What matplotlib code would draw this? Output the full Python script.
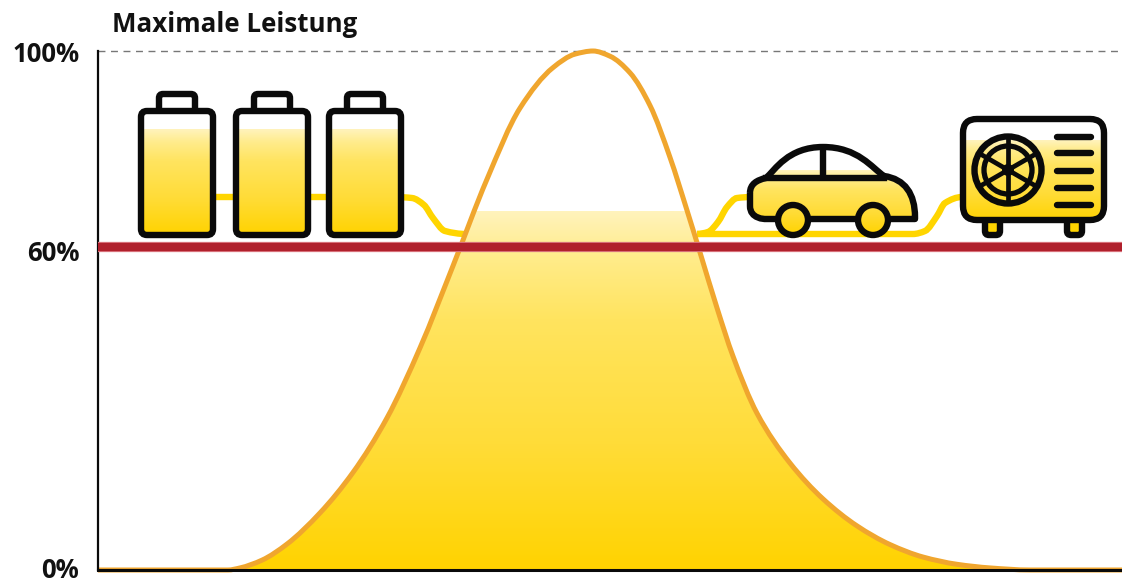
import numpy as np
import matplotlib
matplotlib.use("Agg")
import matplotlib.pyplot as plt
from matplotlib.path import Path
from matplotlib.patches import PathPatch, FancyBboxPatch, Circle
from matplotlib.colors import LinearSegmentedColormap
from matplotlib.transforms import ScaledTranslation

# --- data ---
TITLE = "Maximale Leistung"
TICK_POS = [0, 62.2, 100]
TICK_LABELS = ["0%", "60%", "100%"]
LIMIT_LEVEL = 62.2
FILL_TOP = 69
POWER_X = [98, 228, 240, 262, 287, 320, 353, 387, 420, 453, 487, 520, 553, 575, 593,
           610, 630, 650, 670, 687, 700, 717, 733, 757, 790, 823, 857, 890, 923, 957, 990, 1030, 1122]
POWER_Y = [0, 0, 0.4, 1.9, 5.0, 11, 18.8, 29.3, 42.8, 58.6, 75.3, 89, 96.8, 99.4, 100,
           99.0, 95.8, 89.5, 79.5, 69.3, 61.2, 50.5, 41.2, 30.2, 20.6, 13.7, 8.5, 4.9, 2.5, 1.1, 0.4, 0, 0]

W, H = 1122, 579
L, R, B, T = 98, 1122, 570, 51
BLACK = "#0a0a0a"
YEL = "#FFD400"
WIRE = "#FFD500"
LW = 4.6
cmap = LinearSegmentedColormap.from_list(
    "y", [(0, "#FFD300"), (0.35, "#FFDC38"), (0.7, "#FFE45F"), (0.88, "#FFEC8C"), (1, "#FFF3BC")])

fig = plt.figure(figsize=(W / 100, H / 100), dpi=100, facecolor="white")
ov = fig.add_axes([0, 0, 1, 1], zorder=0)
ov.set_xlim(0, W); ov.set_ylim(H, 0); ov.axis("off")
ax = fig.add_axes([L / W, 1 - B / H, (R - L) / W, (B - T) / H], zorder=1)
ax.patch.set_visible(False)
ax.set_xlim(L, R); ax.set_ylim(0, 100)

FONT = "Open Sans"


def smooth(xs, ys):
    """Monotone cubic path through the read points."""
    xs, ys = np.asarray(xs, float), np.asarray(ys, float)
    h = np.diff(xs)
    s = np.diff(ys) / h
    m = np.zeros_like(xs)
    for i in range(1, len(xs) - 1):
        if s[i - 1] * s[i] > 0:
            w1, w2 = 2 * h[i] + h[i - 1], h[i] + 2 * h[i - 1]
            m[i] = (w1 + w2) / (w1 / s[i - 1] + w2 / s[i])
    verts = [(xs[0], ys[0])]
    codes = [Path.MOVETO]
    for i in range(len(xs) - 1):
        d = h[i] / 3
        verts += [(xs[i] + d, ys[i] + m[i] * d), (xs[i + 1] - d, ys[i + 1] - m[i + 1] * d), (xs[i + 1], ys[i + 1])]
        codes += [Path.CURVE4] * 3
    return verts, codes


def grad(a, patch, x0, x1, top, bottom, z=1):
    """Vertical gradient in pixel axes, clipped to patch."""
    g = np.linspace(1, 0, 128).reshape(-1, 1)
    im = a.imshow(g, cmap=cmap, vmin=0, vmax=1, extent=(x0, x1, bottom, top), aspect="auto",
                  zorder=z, interpolation="bilinear")
    im.set_clip_path(patch)
    return im


# ---- main chart ----
v, c = smooth(POWER_X, POWER_Y)
fv = v + [(R, 0), (L, 0), (L, 0)]
fc = c + [Path.LINETO, Path.LINETO, Path.CLOSEPOLY]
clip = PathPatch(Path(fv, fc), transform=ax.transData, facecolor="none", edgecolor="none")
ax.add_patch(clip)
g = np.linspace(1, 0, 256).reshape(-1, 1)
im = ax.imshow(g, cmap=cmap, extent=(L, R, 0, FILL_TOP), aspect="auto", zorder=1, interpolation="bilinear")
im.set_clip_path(clip)
ax.set_xlim(L, R); ax.set_ylim(0, 100)
ax.add_patch(PathPatch(Path(v, c), facecolor="none", edgecolor="#F0A62E", lw=3.6, zorder=2, clip_on=False))

ax.axhline(100, color="#777777", lw=1.0, dashes=(5, 4), zorder=1, clip_on=False)
ax.axhline(LIMIT_LEVEL, color="#E08088", lw=7.4, zorder=3)
ax.axhline(LIMIT_LEVEL, color="#B0202C", lw=6.0, zorder=4, solid_capstyle="butt")

for s in ("top", "right"):
    ax.spines[s].set_visible(False)
ax.spines["left"].set_linewidth(1.6); ax.spines["left"].set_color(BLACK)
ax.spines["bottom"].set_linewidth(2.2); ax.spines["bottom"].set_color(BLACK)
ax.set_xticks([])
ax.set_yticks(TICK_POS, TICK_LABELS, fontname=FONT, fontweight="bold", fontsize=18.5, color="#111111")
ax.tick_params(axis="y", length=0, pad=13.5)
for lab, dy in zip(ax.get_yticklabels(), (3, -3, 0)):
    lab.set_transform(lab.get_transform() + ScaledTranslation(0, dy / 100, fig.dpi_scale_trans))
fig.text(112 / W, 1 - 24 / H, TITLE, fontname=FONT, fontweight="bold", fontsize=18.6, color="#111111", va="center")


# ---- wires ----
def wire(xs, ys):
    v, c = smooth(xs, ys)
    ov.add_patch(PathPatch(Path(v, c), facecolor="none", edgecolor=WIRE, lw=4.6, zorder=1))


wire([205, 240], [197, 197])
wire([300, 335], [197, 197])
wire([395, 412, 424, 433, 445, 466], [197, 198, 205, 218, 231, 234])
wire([697, 708, 718, 727, 737, 752], [234, 232, 222, 207, 198, 197])
wire([697, 913, 925, 937, 945, 962], [234, 234, 231, 216, 203, 197])


# ---- batteries ----
def rrect(x0, y0, x1, y1, r):
    return FancyBboxPatch((x0 + r, y0 + r), x1 - x0 - 2 * r, y1 - y0 - 2 * r,
                          boxstyle=f"round,pad={r}", mutation_aspect=1)


for bx in (141, 236, 329):
    p = rrect(bx, 111, bx + 72, 235, 6)
    p.set(facecolor="white", edgecolor="none", zorder=3)
    ov.add_patch(p)
    grad(ov, p, bx, bx + 72, 129, 235, z=4)
    ed = rrect(bx, 111, bx + 72, 235, 6)
    ed.set(facecolor="none", edgecolor=BLACK, lw=LW, zorder=5)
    ov.add_patch(ed)
    cap = rrect(bx + 18, 94, bx + 54, 112, 4)
    cap.set(facecolor="white", edgecolor=BLACK, lw=LW, zorder=2)
    ov.add_patch(cap)


# ---- car (pixel outline) ----
def car():
    M, C, Ln = Path.MOVETO, Path.CURVE4, Path.LINETO
    verts = [(750, 193), (750, 184), (757, 180), (766, 178),
             (775, 170), (788, 147), (823, 147), (858, 147), (872, 168), (884, 176),
             (905, 179), (915, 194), (915, 217), (915, 218), (915, 218), (915, 219),
             (765, 219), (765, 219), (750, 219), (750, 206), (750, 193)]
    codes = [M, C, C, C, C, C, C, C, C, C, C, C, C, C, C, C, Ln, C, C, C, Ln]
    return Path(verts, codes)


car_clip = PathPatch(car(), facecolor="white", edgecolor="none", zorder=2)
ov.add_patch(car_clip)
grad(ov, car_clip, 745, 920, 170, 235, z=3)
ov.add_patch(PathPatch(car(), facecolor="none", edgecolor=BLACK, lw=LW, zorder=5, joinstyle="round"))
ov.plot([766, 884], [178, 178], color=BLACK, lw=LW, zorder=6)
ov.plot([823, 823], [147, 178], color=BLACK, lw=LW, zorder=6, solid_capstyle="butt")
for cx in (793, 873):
    w = Circle((cx, 220), 15, facecolor="white", edgecolor="none", zorder=6)
    ov.add_patch(w)
    grad(ov, w, cx - 16, cx + 16, 170, 235, z=7)
    ov.add_patch(Circle((cx, 220), 15, facecolor="none", edgecolor=BLACK, lw=LW, zorder=8))

# ---- outdoor unit ----
for fx in (985, 1067):
    foot = rrect(fx, 218, fx + 15, 235, 4)
    foot.set(facecolor=YEL, edgecolor=BLACK, lw=LW, zorder=2)
    ov.add_patch(foot)
body = rrect(963, 119, 1104, 220, 14)
body.set(facecolor="white", edgecolor="none", zorder=3)
ov.add_patch(body)
grad(ov, body, 960, 1107, 140, 222, z=4)
ed = rrect(963, 119, 1104, 220, 14)
ed.set(facecolor="none", edgecolor=BLACK, lw=LW, zorder=5)
ov.add_patch(ed)
fx0, fy0 = 1008, 170
ov.add_patch(Circle((fx0, fy0), 33.5, facecolor="none", edgecolor=BLACK, lw=LW, zorder=6))
ov.add_patch(Circle((fx0, fy0), 24, facecolor="none", edgecolor=BLACK, lw=3.8, zorder=6))
ov.add_patch(Circle((fx0, fy0), 6, facecolor=BLACK, edgecolor="none", zorder=6))
for ang in (0, 60, 120):
    t = np.deg2rad(ang + 90)
    dx, dy = 34 * np.cos(t), 34 * np.sin(t)
    ov.plot([fx0 - dx, fx0 + dx], [fy0 - dy, fy0 + dy], color=BLACK, lw=3.4, zorder=6, solid_capstyle="butt")
for sy in (137, 153, 171, 188, 205):
    ov.plot([1057, 1091], [sy, sy], color=BLACK, lw=4.6, zorder=6, solid_capstyle="round")

ov.set_xlim(0, W); ov.set_ylim(H, 0)
fig.savefig("out.png", dpi=100)
